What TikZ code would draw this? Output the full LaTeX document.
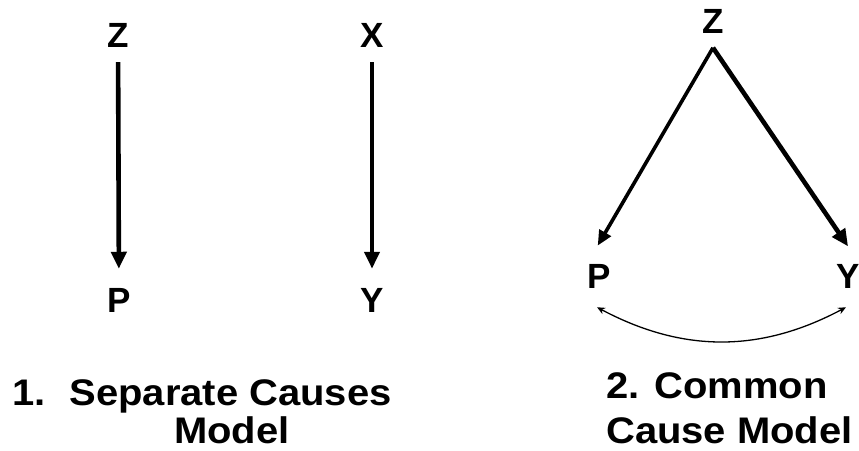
\documentclass[tikz,border=0pt]{standalone}
\usepackage{fontspec}
\usepackage{graphicx}
\setmainfont{Liberation Sans}
\usetikzlibrary{arrows.meta}
\newcommand{\wide}[1]{\scalebox{1.08}[1]{#1}}
\tikzset{
  var/.style={inner sep=0pt, font=\bfseries\fontsize{35}{40}\selectfont},
  caption/.style={inner sep=0pt, anchor=base west, font=\bfseries\fontsize{37}{42}\selectfont},
  bigarrow/.style={line width=4.6pt, -{Triangle[width=15pt,length=17pt]}},
  midarrow/.style={line width=3.6pt, -{Triangle[width=13pt,length=15pt]}},
  thinarrow/.style={line width=1.3pt, {Stealth[width=7pt,length=8pt]}-{Stealth[width=7pt,length=8pt]}}
}
\begin{document}
\begin{tikzpicture}[x=1pt,y=-1pt]
\useasboundingbox (0,0) rectangle (859,450);
% separate causes
\node[var] (Z1) at (118,35) {Z};
\node[var] (X1) at (372,35) {X};
\node[var] (P1) at (119,300) {P};
\node[var] (Y1) at (372,300) {Y};
\draw[bigarrow, shorten <=15pt, shorten >=19pt] (Z1) -- (P1);
\draw[bigarrow, shorten <=15pt, shorten >=19pt] (X1) -- (Y1);
% common cause
\node[var] (Z2) at (713,21) {Z};
\node[var] (P2) at (599,276) {P};
\node[var] (Y2) at (848,276) {Y};
\coordinate (apex) at ([yshift=-14.5pt]Z2.south);
\coordinate (pbot) at ([xshift=-2pt,yshift=-19pt]P2.south);
\coordinate (ybot) at ([xshift=-2pt,yshift=-19pt]Y2.south);
\draw[midarrow, shorten >=21pt] (apex) -- (P2.north west);
\draw[bigarrow, shorten >=21pt] (apex) -- (Y2.north east);
\draw[thinarrow] (pbot) to[out=-28,in=-152] (ybot);
% captions
\node[caption] (c1a) at (12,405) {\wide{1.\hspace{0.6em}Separate Causes}};
\node[caption] (c1b) at (174,443) {\wide{Model}};
\node[caption] (c2a) at (606,398) {\wide{2. Common}};
\node[caption] (c2b) at (606,443) {\wide{Cause Model}};
\end{tikzpicture}
\end{document}
